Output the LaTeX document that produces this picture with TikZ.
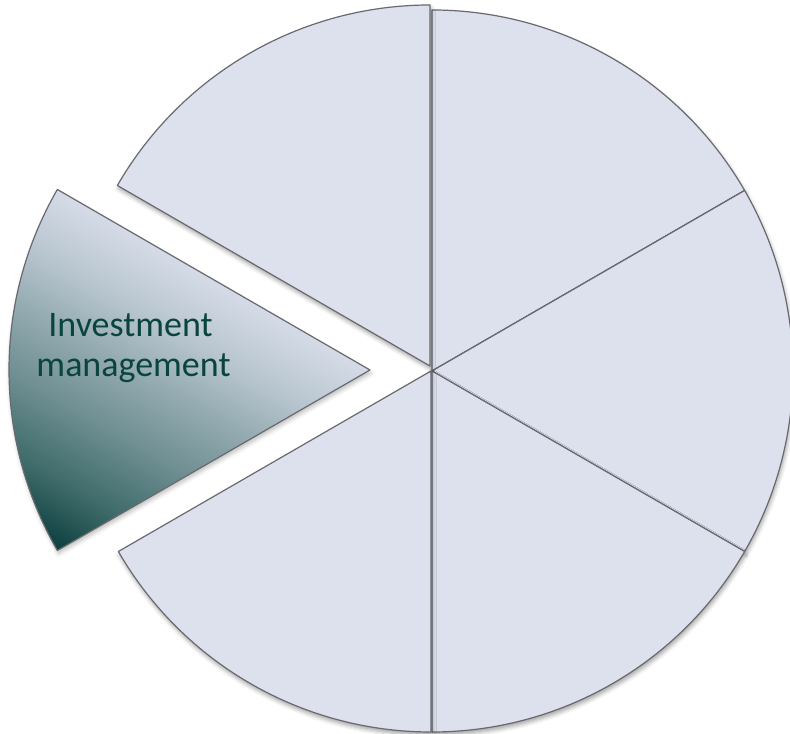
\documentclass[tikz,border=0pt]{standalone}
\usepackage{fontspec}
\setmainfont{Carlito}
\usetikzlibrary{shadows.blur}
\definecolor{slicefill}{RGB}{221,225,238}
\definecolor{sliceline}{RGB}{105,105,110}
\definecolor{tealtext}{RGB}{10,68,62}
\definecolor{tealdark}{RGB}{12,62,62}
\pgfdeclarehorizontalshading{invgrad}{100bp}{%
  color(0bp)=(tealdark);
  color(20bp)=(tealdark);
  color(28bp)=(tealtext!76!slicefill);
  color(38bp)=(tealtext!52!slicefill);
  color(46bp)=(tealtext!36!slicefill);
  color(54bp)=(tealtext!18!slicefill);
  color(62bp)=(tealtext!5!slicefill);
  color(68bp)=(slicefill);
  color(100bp)=(slicefill)}
\tikzset{
  slice/.style={fill=slicefill, draw=sliceline, line width=0.9pt, line join=round,
    blur shadow={shadow xshift=0.8pt, shadow yshift=-2.5pt, shadow blur radius=3pt, shadow opacity=35}},
  hot/.style={draw=sliceline, line width=0.9pt, line join=round, shading=invgrad, shading angle=60,
    blur shadow={shadow xshift=0.8pt, shadow yshift=-2.5pt, shadow blur radius=3pt, shadow opacity=25}},
  lbl/.style={font=\fontsize{27}{30}\selectfont, text=tealtext, inner sep=0pt, anchor=base}
}
\newcommand{\pieslice}[5]{% style, cx, cy, a1, a2
  \path[#1] (#2,#3) -- ++(#4:361) arc[start angle=#4, end angle=#5, radius=361] -- cycle;}
\begin{document}
\begin{tikzpicture}[x=0.75pt,y=0.75pt]
\useasboundingbox (0,0) rectangle (790,734);
% right-hand slices
\pieslice{slice}{432}{363}{30}{90}
\pieslice{slice}{432}{363}{-30}{30}
\pieslice{slice}{432}{363}{-90}{-30}
\pieslice{slice}{431}{363}{210}{270}
\pieslice{slice}{430}{368}{90}{150}
% exploded slice
\pieslice{hot}{370}{364}{150}{210}
\node[lbl] (t1) at (130.5,397) {Investment};
\node[lbl] (t2) at (133.5,357) {management};
\end{tikzpicture}
\end{document}
